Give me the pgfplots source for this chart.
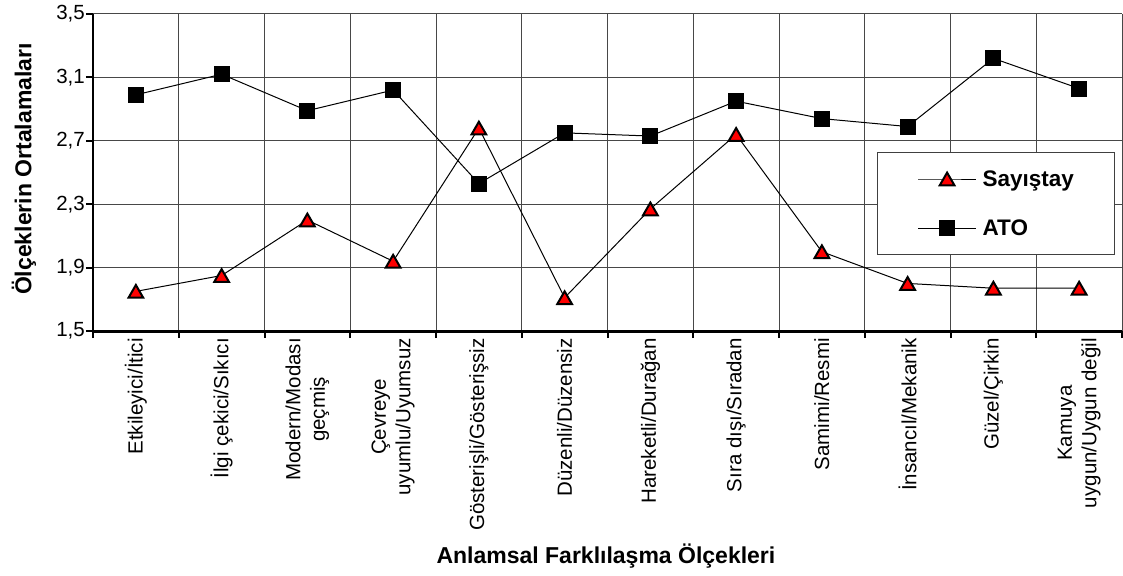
\documentclass[border=0pt]{standalone}
\usepackage{fontspec}
\setmainfont{Liberation Sans}
\usepackage{pgfplots}
\pgfplotsset{compat=1.18}
\definecolor{trired}{RGB}{255,0,0}
\begin{document}
\begin{tikzpicture}
\useasboundingbox (-93pt,-244pt) rectangle (1030pt,331pt);
\begin{axis}[
  at={(0pt,0pt)}, anchor=south west,
  scale only axis, width=1029pt, height=317pt,
  xmin=0.5, xmax=12.5, ymin=1.5, ymax=3.5,
  axis x line*=bottom, axis y line*=left,
  x axis line style={-, black, line width=3pt},
  y axis line style={-, black, line width=2.5pt},
  xtick={0.5,1.5,...,12.5},
  x tick label as interval,
  xticklabels={Etkileyici/İtici, İlgi çekici/Sıkıcı, {Modern/Modası\\geçmiş}, {Çevreye\\uyumlu/Uyumsuz}, Gösterişli/Gösterişsiz, Düzenli/Düzensiz, Hareketli/Durağan, Sıra dışı/Sıradan, Samimi/Resmi, İnsancıl/Mekanik, Güzel/Çirkin, {Kamuya\\uygun/Uygun değil}},
  ytick={1.5,1.9,2.3,2.7,3.1,3.5},
  yticklabels={{1,5},{1,9},{2,3},{2,7},{3,1},{3,5}},
  tick align=outside,
  major tick length=7pt,
  tick style={black, line width=2pt},
  grid=major,
  grid style={black!72, line width=1pt},
  xticklabel style={rotate=90, anchor=east, align=center, font=\fontsize{20.5}{24.5}\selectfont, inner sep=0pt},
  yticklabel style={anchor=east, font=\fontsize{20.5}{24}\selectfont, inner sep=0pt, xshift=-1pt},
  xlabel={Anlamsal Farklılaşma Ölçekleri},
  ylabel={Ölçeklerin Ortalamaları},
  every axis x label/.style={at={(rel axis cs:0.4985,-0.7319)}, anchor=base, font=\fontsize{23}{27}\selectfont\bfseries},
  every axis y label/.style={at={(rel axis cs:-0.0598,0.511)}, anchor=base, rotate=90, font=\fontsize{23}{27}\selectfont\bfseries},
  legend style={at={(0.762,0.565)}, anchor=north west, draw=black!75, line width=1pt, fill=white,
    inner xsep=40pt, inner ysep=18pt, row sep=32pt, column sep=6pt,
    font=\fontsize{22.5}{27}\selectfont\bfseries,
    nodes={inner sep=0pt, text width=92pt}},
  legend cell align=left,
  legend image code/.code={\draw[mark repeat=2,mark phase=2,#1] plot coordinates {(0pt,0pt) (29pt,0pt) (58pt,0pt)};},
]
\addplot[black, line width=1pt, mark=triangle*, mark size=8.5pt,
  mark options={fill=trired, draw=black, line width=2pt, yshift=-2.1pt}]
  coordinates {(1,1.75) (2,1.85) (3,2.20) (4,1.94) (5,2.78) (6,1.71) (7,2.27) (8,2.74) (9,2.00) (10,1.80) (11,1.77) (12,1.77)};
\addlegendentry{Sayıştay}
\addplot[black, line width=1pt, mark=square*, mark size=7.5pt,
  mark options={fill=black, draw=black, line width=0.8pt}]
  coordinates {(1,2.99) (2,3.12) (3,2.89) (4,3.02) (5,2.43) (6,2.75) (7,2.73) (8,2.95) (9,2.84) (10,2.79) (11,3.22) (12,3.03)};
\addlegendentry{ATO}
\end{axis}
\end{tikzpicture}
\end{document}
